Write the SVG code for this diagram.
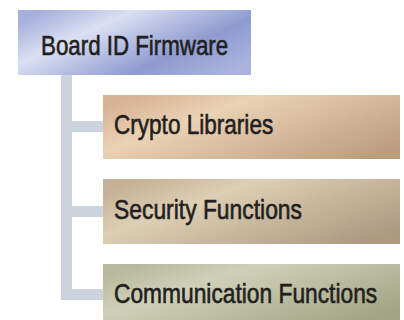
<svg xmlns="http://www.w3.org/2000/svg" width="404" height="320" viewBox="0 0 404 320">
  <style>
    .label { font-family: "Liberation Sans", Arial, sans-serif; font-size: 27px; fill: #231f20; stroke: #231f20; stroke-width: 0.6px; }
    .link { fill: #cbd4dc; }
  </style>
  <defs>
    <linearGradient id="gBlue" x1="0" y1="0.2" x2="1" y2="0.8">
      <stop offset="0" stop-color="#a6b0dc"/>
      <stop offset="0.28" stop-color="#dbe0f2"/>
      <stop offset="0.7" stop-color="#8e9bd0"/>
      <stop offset="1" stop-color="#a9b3dd"/>
    </linearGradient>
    <linearGradient id="gTan" x1="0" y1="0.2" x2="1" y2="0.8">
      <stop offset="0" stop-color="#d6b394"/>
      <stop offset="0.3" stop-color="#ebd2b4"/>
      <stop offset="1" stop-color="#bc9d80"/>
    </linearGradient>
    <linearGradient id="gTaupe" x1="0" y1="0.2" x2="1" y2="0.8">
      <stop offset="0" stop-color="#c6b096"/>
      <stop offset="0.3" stop-color="#ddcfb4"/>
      <stop offset="1" stop-color="#ad9880"/>
    </linearGradient>
    <linearGradient id="gSage" x1="0" y1="0.2" x2="1" y2="0.8">
      <stop offset="0" stop-color="#b6b99c"/>
      <stop offset="0.3" stop-color="#d0d0b8"/>
      <stop offset="1" stop-color="#a2a585"/>
    </linearGradient>
  </defs>

  <!-- tree connectors -->
  <g id="connectors">
    <rect class="link" x="61" y="74" width="11" height="226"/>
    <rect class="link" x="61" y="121" width="43" height="11"/>
    <rect class="link" x="61" y="206" width="43" height="11"/>
    <rect class="link" x="61" y="289" width="43" height="11"/>
  </g>

  <!-- labels are drawn horizontally condensed (scale 0.8) -->
  <g id="board-id-firmware">
    <rect x="18" y="10" width="233" height="65" fill="url(#gBlue)"/>
    <text class="label" transform="translate(41 55) scale(0.8 1)" textLength="234" lengthAdjust="spacingAndGlyphs">Board ID Firmware</text>
  </g>

  <g id="crypto-libraries">
    <rect x="103" y="95" width="297" height="64" fill="url(#gTan)"/>
    <text class="label" transform="translate(114 134) scale(0.8 1)" textLength="199" lengthAdjust="spacingAndGlyphs">Crypto Libraries</text>
  </g>

  <g id="security-functions">
    <rect x="103" y="179" width="297" height="65" fill="url(#gTaupe)"/>
    <text class="label" transform="translate(114 219) scale(0.8 1)" textLength="235" lengthAdjust="spacingAndGlyphs">Security Functions</text>
  </g>

  <g id="communication-functions">
    <rect x="103" y="264" width="297" height="56" fill="url(#gSage)"/>
    <text class="label" transform="translate(114 303) scale(0.8 1)" textLength="329" lengthAdjust="spacingAndGlyphs">Communication Functions</text>
  </g>
</svg>
